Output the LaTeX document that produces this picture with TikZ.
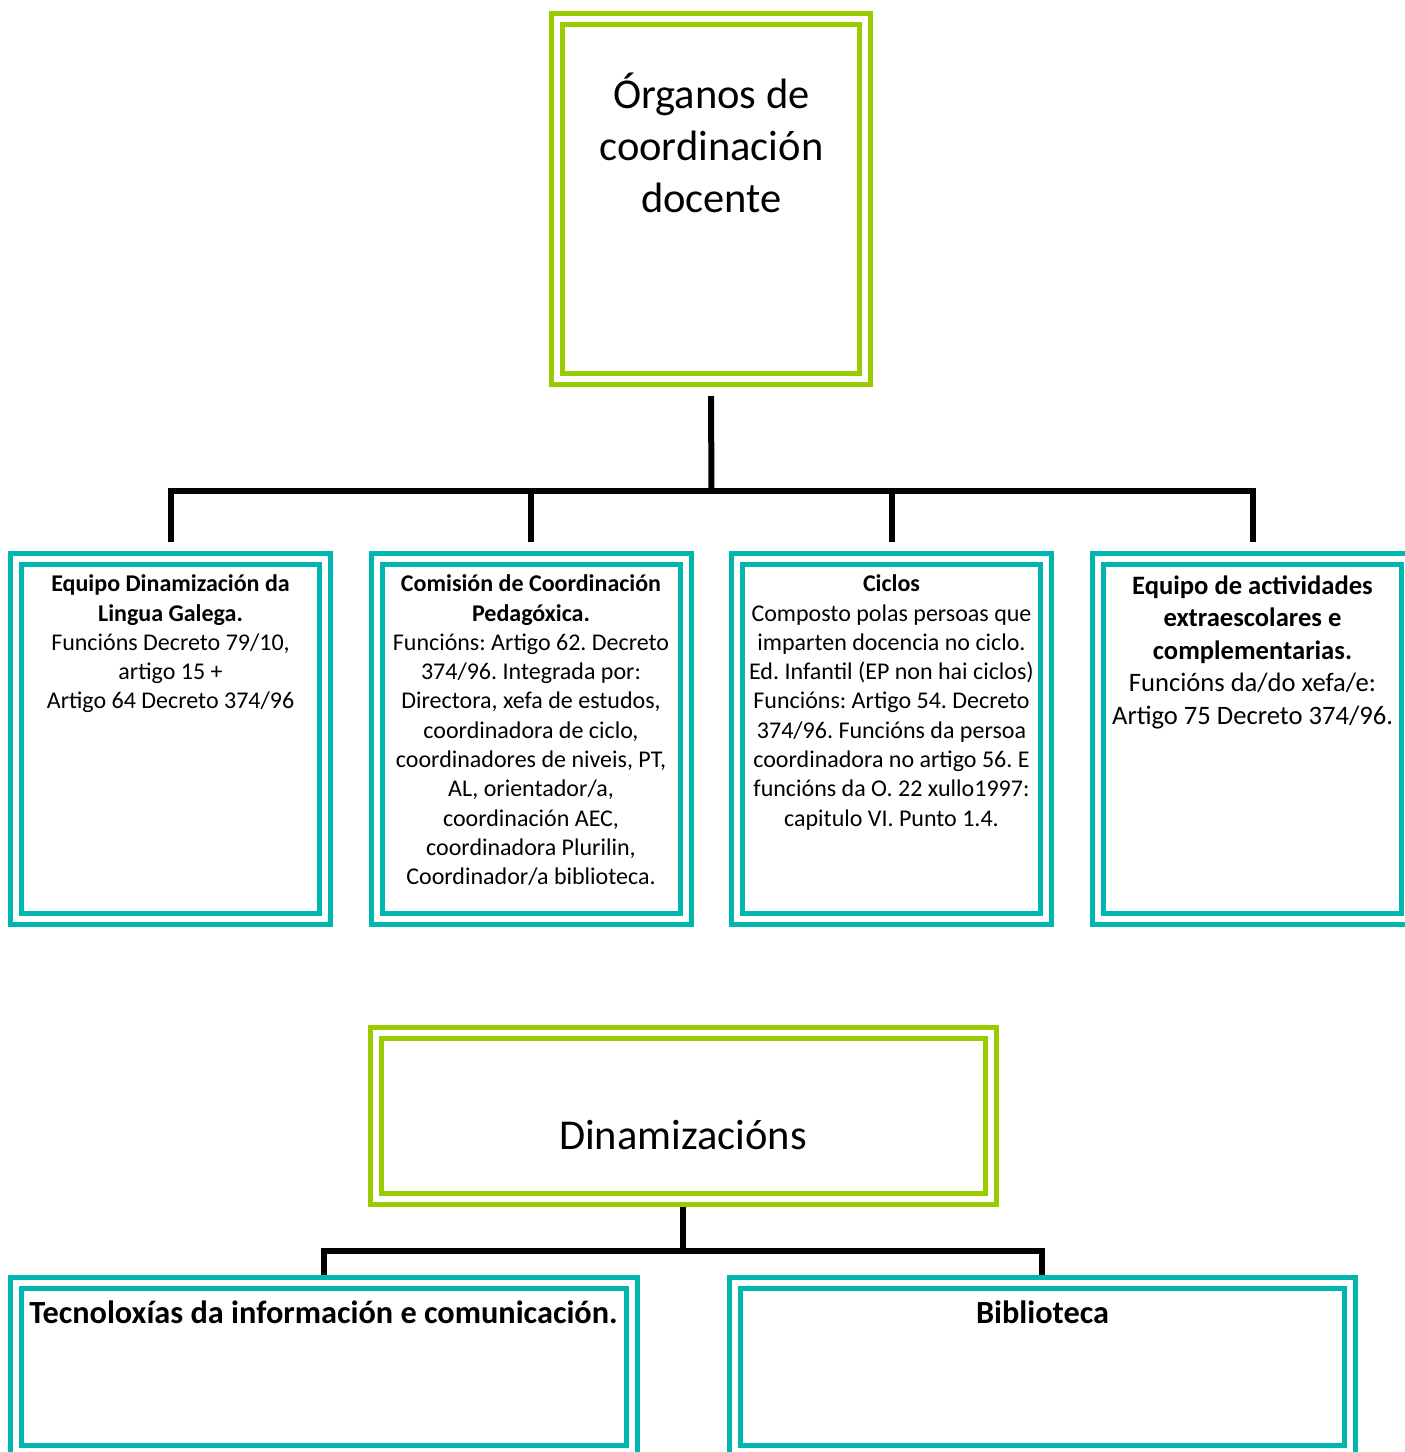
\documentclass[tikz,border=0pt]{standalone}
\usepackage{fontspec}
\setmainfont{Carlito}
\usetikzlibrary{calc}
\definecolor{lgreen}{RGB}{153,204,0}
\definecolor{tealb}{RGB}{0,183,175}
\tikzset{
  dbox/.style={draw=#1, double=white, double distance=6pt, line width=5pt,
    inner sep=0pt, outer sep=0pt, rectangle},
  conn/.style={draw=black, line width=6pt},
  txt/.style={inner sep=0pt, align=center, anchor=north},
  smalltxt/.style={font=\fontsize{24}{29.3}\selectfont\frenchspacing},
  midtxt/.style={font=\fontsize{26.6}{32.5}\selectfont\frenchspacing},
  bigtxt/.style={font=\fontsize{42.5}{52}\selectfont\frenchspacing},
  headtxt/.style={font=\fontsize{32.3}{39}\selectfont\bfseries\frenchspacing, inner sep=0pt, anchor=base},
}
\begin{document}
\begin{tikzpicture}[x=1pt,y=-1pt]
\useasboundingbox (0,0) rectangle (1405,1452);
\clip (0,0) rectangle (1405,1452);
\fill[white] (0,0) rectangle (1405,1452);

% top box
\node[dbox=lgreen, minimum width=308pt, minimum height=360.5pt] (top) at (711,198.75) {};
\node[txt, bigtxt] (ttop) at (711.5,72) {\strut Órganos de\\ coordinación\\ docente};

% row boxes
\node[dbox=tealb, minimum width=309pt, minimum height=360.25pt] (b1) at (170.5,739.1) {};
\node[dbox=tealb, minimum width=309pt, minimum height=360.25pt] (b2) at (531,739.1) {};
\node[dbox=tealb, minimum width=309pt, minimum height=360.25pt] (b3) at (891.5,739.1) {};
\node[dbox=tealb, minimum width=309pt, minimum height=360.25pt] (b4) at (1252.5,739.1) {};

\node[txt, smalltxt] (t1) at (170.5,571) {\strut\textbf{Equipo Dinamización da}\\ \textbf{Lingua Galega.}\\ Funcións Decreto 79/10,\\ artigo 15 +\\ Artigo 64 Decreto 374/96};
\node[txt, smalltxt] (t2) at (531,571) {\strut\textbf{Comisión de Coordinación}\\ \textbf{Pedagóxica.}\\ Funcións: Artigo 62. Decreto\\ 374/96. Integrada por:\\ Directora, xefa de estudos,\\ coordinadora de ciclo,\\ coordinadores de niveis, PT,\\ AL, orientador/a,\\ coordinación AEC,\\ coordinadora Plurilin,\\ Coordinador/a biblioteca.};
\node[txt, smalltxt] (t3) at (891.5,571) {\strut\textbf{Ciclos}\\ Composto polas persoas que\\ imparten docencia no ciclo.\\ Ed. Infantil (EP non hai ciclos)\\ Funcións: Artigo 54. Decreto\\ 374/96. Funcións da persoa\\ coordinadora no artigo 56. E\\ funcións da O. 22 xullo1997:\\ capitulo VI. Punto 1.4.};
\node[txt, midtxt] (t4) at (1252.5,571.5) {\strut\textbf{Equipo de actividades}\\ \textbf{extraescolares e}\\ \textbf{complementarias.}\\ Funcións da/do xefa/e:\\ Artigo 75 Decreto 374/96.};

% top connectors
\coordinate (hub) at (711.5,491);
\draw[conn] ($(top.south)+(0,17)$) -- (hub);
\draw[conn] ($(b1.north)+(0,-17)$) -- (b1 |- hub) -- (b4 |- hub) -- ($(b4.north)+(0,-17)$);
\draw[conn] ($(b2.north)+(0,-17)$) -- (b2 |- hub);
\draw[conn] ($(b3.north)+(0,-17)$) -- (b3 |- hub);

% second chart
\node[dbox=lgreen, minimum width=615pt, minimum height=166.75pt] (din) at (683,1115.9) {};
\node[bigtxt, inner sep=0pt, anchor=base] (tdin) at (683,1149.4) {Dinamizacións};

\node[dbox=tealb, minimum width=615.5pt, minimum height=167.5pt] (tec) at (323.75,1366.75) {};
\node[dbox=tealb, minimum width=615.5pt, minimum height=167.5pt] (bib) at (1042.25,1366.75) {};
\node[headtxt] (ttec) at (323.5,1323) {Tecnoloxías da información e comunicación.};
\node[headtxt] (tbib) at (1042.5,1323) {Biblioteca};

\coordinate (hub2) at (683,1251);
\draw[conn] ($(din.south)+(0,8)$) -- (hub2);
\draw[conn] ($(tec.north)+(0,-8)$) -- (tec |- hub2) -- (bib |- hub2) -- ($(bib.north)+(0,-8)$);
\end{tikzpicture}
\end{document}
